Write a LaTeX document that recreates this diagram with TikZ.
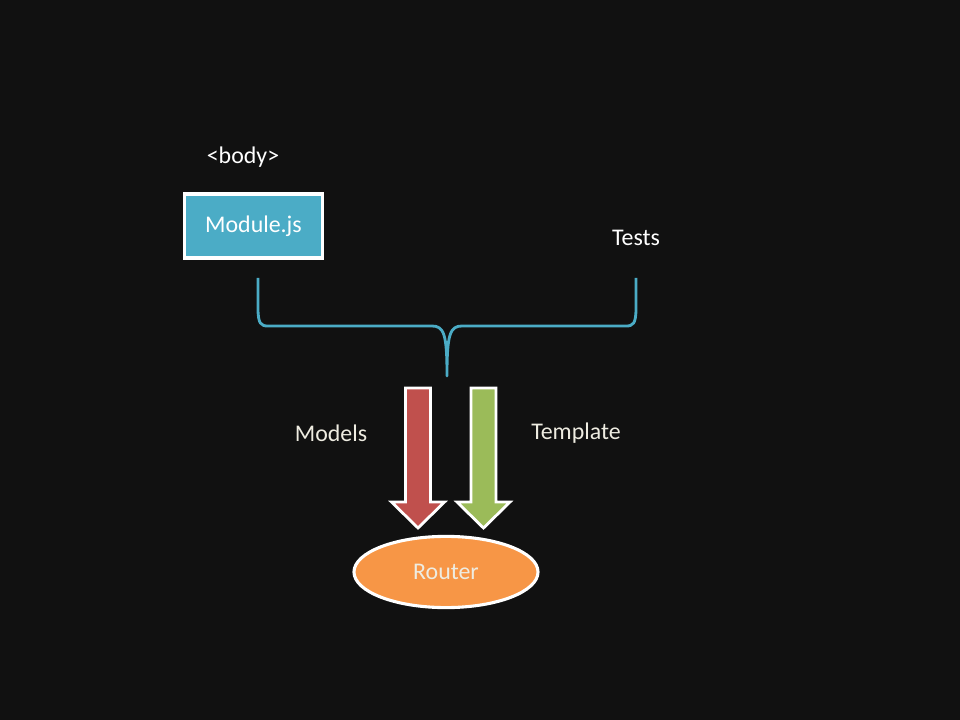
\documentclass[tikz,border=0pt]{standalone}
\usepackage{fontspec}
\setmainfont{Carlito}
\usepackage{xcolor}
\usetikzlibrary{shapes,positioning,calc}

\definecolor{slide}{HTML}{111111}
\definecolor{aqua}{HTML}{4BACC6}
\definecolor{brick}{HTML}{C0504D}
\definecolor{olive}{HTML}{9BBB59}
\definecolor{tangerine}{HTML}{F79646}
\definecolor{cream}{HTML}{EEECE1}

\tikzset{
    label text/.style={text=white, font=\fontsize{17}{20}\selectfont},
    block arrow/.style={draw=white, line width=2pt, line join=miter},
}

\begin{document}
\begin{tikzpicture}[x=0.025cm, y=-0.025cm]
    % Background
    \fill[slide] (0,0) rectangle (960,720);
    \useasboundingbox (0,0) rectangle (960,720);

    % Module box
    \node[label text] (body) at (243,157) {<body>};
    \node[label text, draw=white, line width=2.2pt, fill=aqua, inner sep=0pt,
          minimum width=3.45cm, minimum height=1.6cm] (module) at (253.5,226) {Module.js};
    \node[label text] (tests) at (636,238) {Tests};

    % Brace
    \draw[aqua, line width=2pt, line join=round]
        (258,278) -- (258,308) .. controls (258,324) and (261,326) .. (268,326)
        -- (432,326) .. controls (444,326) and (447,334) .. (447,376)
        .. controls (447,334) and (450,326) .. (462,326)
        -- (626,326) .. controls (633,326) and (636,324) .. (636,308) -- (636,278);

    % Arrows
    \foreach \x/\col in {418/brick, 483.5/olive}
        \draw[block arrow, fill=\col] (\x-12.5,388) -- (\x+12.5,388) -- (\x+12.5,502) -- (\x+26.5,502)
            -- (\x,528) -- (\x-26.5,502) -- (\x-12.5,502) -- cycle;
    \node[label text, text=cream] (models) at (331,433) {Models};
    \node[label text, text=cream] (template) at (576,433) {Template};

    % Router
    \node[label text, text=cream, draw=white, line width=2.2pt, fill=tangerine, ellipse,
          minimum width=4.6cm, minimum height=1.78cm] (router) at (446,572) {Router};
\end{tikzpicture}
\end{document}
